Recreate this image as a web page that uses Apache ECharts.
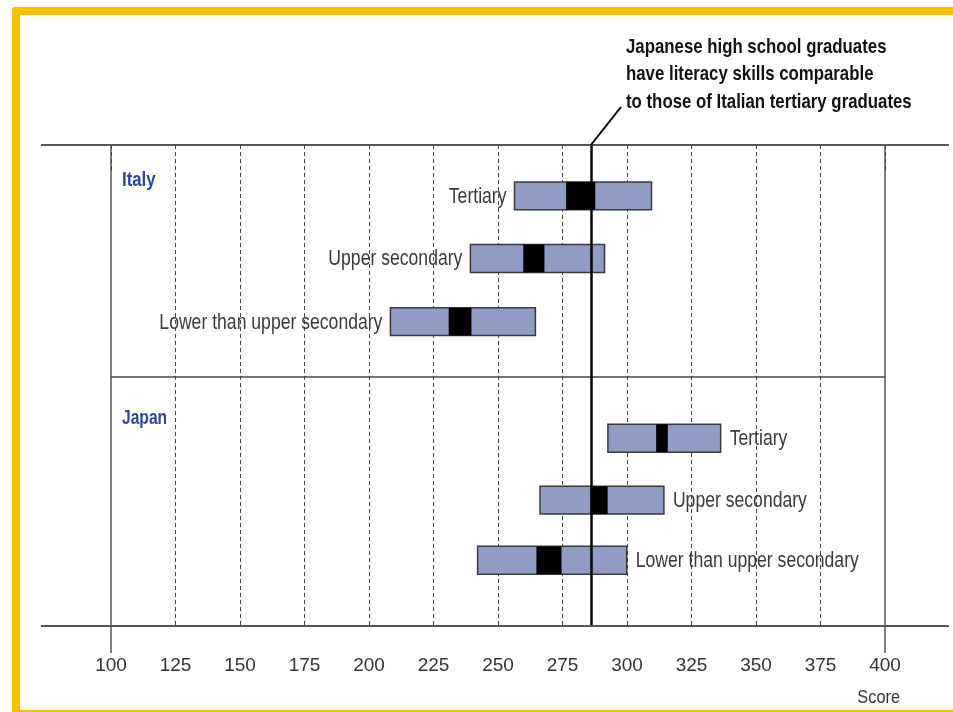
<!DOCTYPE html>
<html><head><meta charset="utf-8">
<script src="https://cdn.jsdelivr.net/npm/echarts@6/dist/echarts.min.js"></script>
<style>html,body{margin:0;padding:0;background:#fff;} #chart{width:953px;height:712px;}</style>
</head><body><div id="chart"></div>
<script>
// ---- data ----
const levels = ['Tertiary', 'Upper secondary', 'Lower than upper secondary'];
const countries = ['Italy', 'Japan'];
// blue box: low..high ; black box: meanLow..meanHigh
const italyLow      = [256.4, 239.3, 208.3];
const italyMeanLow  = [276.4, 259.8, 230.9];
const italyMeanHigh = [287.7, 268.0, 239.7];
const italyHigh     = [309.5, 291.3, 264.5];
const japanLow      = [292.6, 266.3, 242.1];
const japanMeanLow  = [311.3, 285.9, 264.9];
const japanMeanHigh = [315.8, 292.5, 274.6];
const japanHigh     = [336.3, 314.3, 299.9];
// row slots on the (hidden) vertical scale
const italyRows = [0.82, 1.83, 2.85];
const japanRows = [4.73, 5.73, 6.70];
const dividerRow = 3.74;
const countryRows = [0.55, 4.4];
const refScore = 286;
const xTickLabels = [100, 125, 150, 175, 200, 225, 250, 275, 300, 325, 350, 375, 400];
const annotationLines = ['Japanese high school graduates', 'have literacy skills comparable', 'to those of Italian tertiary graduates'];
const axisName = 'Score';

const SANS = '"Liberation Sans", Arial, sans-serif';
const LABEL_SCALE = 0.80;   // condensed look
const BOLD_SCALE = 0.80;

const data = [];
levels.forEach((lv, i) => data.push([italyRows[i], italyLow[i], italyMeanLow[i], italyMeanHigh[i], italyHigh[i], 0, lv]));
levels.forEach((lv, i) => data.push([japanRows[i], japanLow[i], japanMeanLow[i], japanMeanHigh[i], japanHigh[i], 1, lv]));

const chart = echarts.init(document.getElementById('chart'), null, {renderer: 'canvas'});
const gridTop = 145, gridBottom = 86, gridLeft = 111, gridRight = 68;

const option = {
  backgroundColor: '#fff',
  animation: false,
  grid: {left: gridLeft, right: gridRight, top: gridTop, bottom: gridBottom},
  xAxis: [{
    type: 'value', min: xTickLabels[0], max: xTickLabels[xTickLabels.length - 1], interval: 25,
    axisLine: {show: false},
    axisTick: {show: true, length: 27, lineStyle: {color: '#444', width: 1, type: [4, 3]}},
    axisLabel: {margin: 30, fontFamily: SANS, fontSize: 19, color: '#333'},
    splitLine: {show: true, showMinLine: false, showMaxLine: false, lineStyle: {color: '#444', width: 1, type: [4, 3]}}
  }, {
    type: 'value', min: 100, max: 400, interval: 300, position: 'bottom',
    axisLine: {show: false},
    axisTick: {show: true, length: 27, lineStyle: {color: '#555', width: 1.5}},
    axisLabel: {show: false},
    splitLine: {show: true, lineStyle: {color: '#555', width: 1.5}}
  }],
  yAxis: {
    type: 'value', min: 0, max: 7.76, inverse: true, show: false,
    splitLine: {show: false}
  },
  series: [{
    type: 'custom',
    xAxisIndex: 0,
    data: data,
    encode: {x: [1, 2, 3, 4], y: 0},
    z: 3,
    renderItem: function (params, api) {
      const y = api.value(0);
      const p0 = api.coord([api.value(1), y]);
      const m0 = api.coord([api.value(2), y]);
      const m1 = api.coord([api.value(3), y]);
      const p1 = api.coord([api.value(4), y]);
      const side = api.value(5);
      const h = api.size([0, 0.45])[1];
      const label = data[params.dataIndex][6];
      return {type: 'group', children: [
        {type: 'rect', shape: {x: p0[0], y: p0[1] - h / 2, width: p1[0] - p0[0], height: h},
          style: {fill: '#8e9cc6', stroke: '#3a3a3a', lineWidth: 1.5}},
        {type: 'rect', shape: {x: m0[0], y: p0[1] - h / 2, width: m1[0] - m0[0], height: h},
          style: {fill: '#000'}},
        {type: 'text', x: side ? p1[0] + 9 : p0[0] - 8, y: p0[1] + 1, scaleX: LABEL_SCALE,
          style: {text: label, x: 0, y: 0,
          align: side ? 'left' : 'right', verticalAlign: 'middle',
          font: '22px ' + SANS, fill: '#3a3a3a'}}
      ]};
    },
    markLine: {
      silent: true, symbol: 'none', animation: false, label: {show: false},
      data: [
        {yAxis: dividerRow, lineStyle: {color: '#444', width: 1.5, type: 'solid'}},
        {xAxis: refScore, lineStyle: {color: '#000', width: 2.5, type: 'solid'}}
      ]
    }
  }]
};
chart.setOption(option);

// decorations positioned from the scales
const refPx = chart.convertToPixel({xAxisIndex: 0, yAxisIndex: 0}, [refScore, 0]);
const leftPx = chart.convertToPixel({xAxisIndex: 0, yAxisIndex: 0}, [100, countryRows[0]]);
const japPx = chart.convertToPixel({xAxisIndex: 0, yAxisIndex: 0}, [100, countryRows[1]]);
const botY = 712 - gridBottom;
const graphics = [
  // yellow frame
  {type: 'rect', shape: {x: 12, y: 7, width: 941, height: 8, r: [4, 0, 0, 0]}, style: {fill: '#ffc000'}, z: 10},
  {type: 'rect', shape: {x: 12, y: 7, width: 8, height: 705, r: [4, 0, 0, 0]}, style: {fill: '#ffc000'}, z: 10},
  {type: 'rect', shape: {x: 20, y: 710, width: 933, height: 2}, style: {fill: '#ffc000'}, z: 10},
  // top and bottom rules
  {type: 'line', shape: {x1: 41, y1: gridTop, x2: 949, y2: gridTop}, style: {stroke: '#555', lineWidth: 2}, z: 5},
  {type: 'line', shape: {x1: 41, y1: botY, x2: 949, y2: botY}, style: {stroke: '#555', lineWidth: 2}, z: 5},
  // leader line
  {type: 'line', shape: {x1: refPx[0], y1: gridTop, x2: 621, y2: 107}, style: {stroke: '#000', lineWidth: 2}, z: 5},
  // country labels
  {type: 'text', x: leftPx[0] + 11, y: leftPx[1] + 1, scaleX: 0.84, style: {text: countries[0], x: 0, y: 0, verticalAlign: 'middle',
    font: 'bold 20px ' + SANS, fill: '#2a45a3'}, z: 5},
  {type: 'text', x: japPx[0] + 11, y: japPx[1] + 1, scaleX: 0.78, style: {text: countries[1], x: 0, y: 0, verticalAlign: 'middle',
    font: 'bold 20px ' + SANS, fill: '#2a45a3'}, z: 5},
  // axis name
  {type: 'text', x: 900, y: 698, scaleX: 0.86, style: {text: axisName, x: 0, y: 0, align: 'right', verticalAlign: 'middle',
    font: '19px ' + SANS, fill: '#333'}, z: 5}
];
annotationLines.forEach((t, i) => graphics.push({type: 'text', x: 626, y: 47 + i * 27.5, scaleX: BOLD_SCALE,
  style: {text: t, x: 0, y: 0, verticalAlign: 'middle', font: 'bold 21px ' + SANS, fill: '#111'}, z: 5}));
chart.setOption({graphic: graphics});
</script></body></html>
